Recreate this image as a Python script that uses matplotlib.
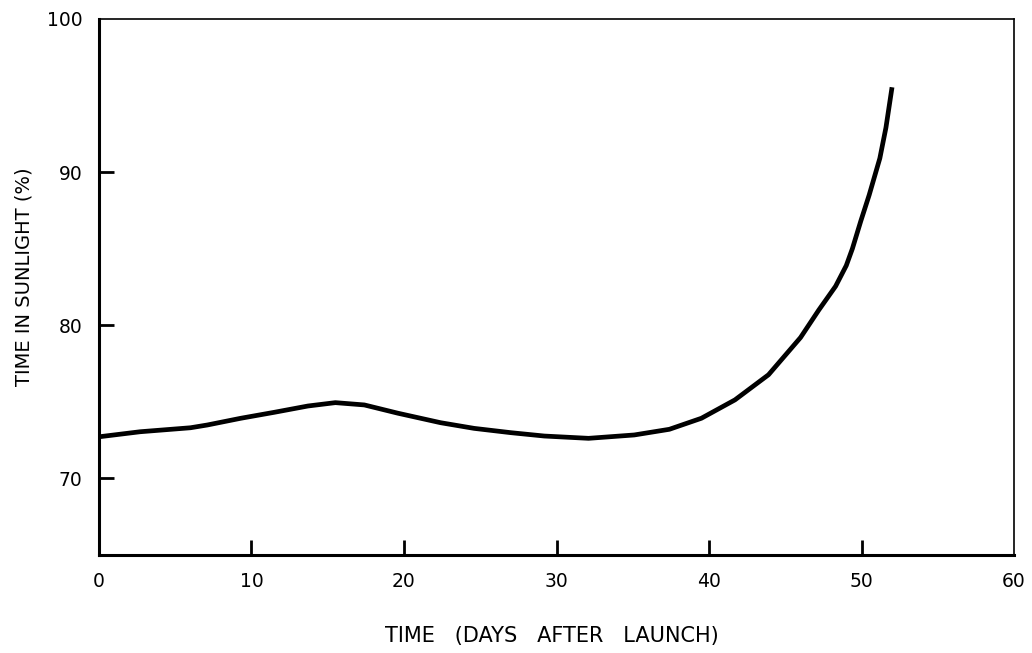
import matplotlib
matplotlib.use('Agg')
import matplotlib.pyplot as plt

# Δεδομένα καμπύλης (ανάγνωση από το διάγραμμα)
days = [0, 2.7, 6.0, 7.1, 9.3, 11.5, 13.7, 15.5, 17.4, 19.6, 22.4, 24.6, 27.0,
        29.2, 32.1, 35.1, 37.4, 39.5, 41.7, 43.9, 46.0, 47.2, 48.3, 49.0,
        49.4, 49.95, 50.5, 51.2, 51.6, 52.0]
sunlight = [72.72, 73.05, 73.31, 73.49, 73.93, 74.32, 74.73, 74.95, 74.80, 74.26, 73.64, 73.27, 72.99,
            72.77, 72.62, 72.84, 73.21, 73.93, 75.13, 76.77, 79.2, 81.0, 82.55, 83.9,
            85.0, 86.8, 88.5, 90.9, 92.9, 95.54]

x_ticks = [0, 10, 20, 30, 40, 50, 60]
y_ticks = [70, 80, 90, 100]

fig = plt.figure(figsize=(10.32, 6.53), dpi=100)
ax = fig.add_axes([0.0959, 0.150, 0.8867, 0.821])

ax.plot(days, sunlight, color='black', linewidth=3.4,
        solid_capstyle='butt', solid_joinstyle='round')

ax.set_xlim(0, 60)
ax.set_ylim(65, 100)
ax.set_xticks(x_ticks)
ax.set_yticks(y_ticks)

for side in ['left', 'bottom']:
    ax.spines[side].set_linewidth(2.2)
for side in ['top', 'right']:
    ax.spines[side].set_linewidth(1.2)

ax.tick_params(direction='in', length=11, width=2, labelsize=13.5, pad=12,
               top=False, right=False)

# ticks sta akra den fainontai
xt = ax.xaxis.get_major_ticks()
xt[0].tick1line.set_visible(False)
xt[-1].tick1line.set_visible(False)
ax.yaxis.get_major_ticks()[-1].tick1line.set_visible(False)

ax.set_xlabel('TIME   (DAYS   AFTER   LAUNCH)', fontsize=15)
ax.xaxis.set_label_coords(0.495, -0.132)
ax.set_ylabel('TIME IN SUNLIGHT (%)', fontsize=14)
ax.yaxis.set_label_coords(-0.072, 0.52)

fig.savefig('out.png', dpi=100)
